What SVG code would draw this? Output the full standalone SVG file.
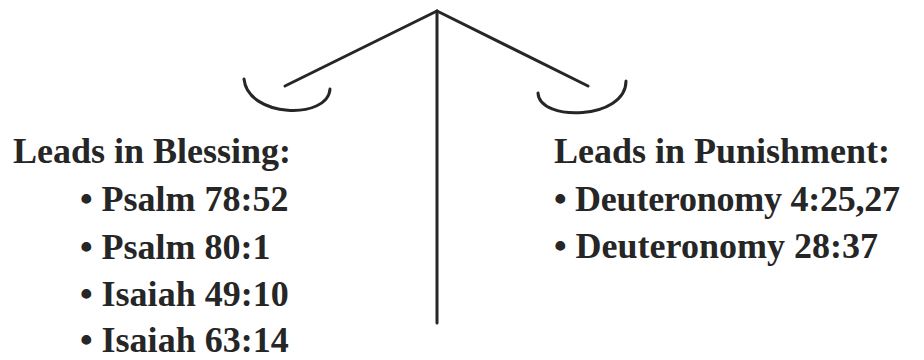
<svg xmlns="http://www.w3.org/2000/svg" width="924" height="360" viewBox="0 0 924 360">
  <style>
    .ln { fill: none; stroke: #262626; stroke-width: 3; stroke-linecap: round; stroke-linejoin: round; }
    .t { font-family: "Liberation Serif", "Times New Roman", serif; font-weight: bold; font-size: 36px; fill: #262626; }
  </style>
  <rect width="924" height="360" fill="#ffffff"/>
  <g id="connectors">
    <line class="ln" x1="437" y1="11" x2="437" y2="323"/>
    <line class="ln" x1="437" y1="11" x2="285" y2="86"/>
    <line class="ln" x1="437" y1="11" x2="588" y2="86"/>
  </g>
  <g id="left-pan">
    <path class="ln" d="M244,79 C248,118 328,120 330,89"/>
  </g>
  <g id="right-pan">
    <path class="ln" d="M538,93 C539,122 626,120 626,81"/>
  </g>
  <g id="blessing">
    <text class="t" x="13" y="163">Leads in Blessing:</text>
    <text class="t" x="80" y="211">• Psalm 78:52</text>
    <text class="t" x="80" y="259">• Psalm 80:1</text>
    <text class="t" x="80" y="306">• Isaiah 49:10</text>
    <text class="t" x="80" y="352">• Isaiah 63:14</text>
  </g>
  <g id="punishment">
    <text class="t" x="554" y="163">Leads in Punishment:</text>
    <text class="t" x="554" y="211" textLength="346">• Deuteronomy 4:25,27</text>
    <text class="t" x="554" y="258">• Deuteronomy 28:37</text>
  </g>
</svg>
